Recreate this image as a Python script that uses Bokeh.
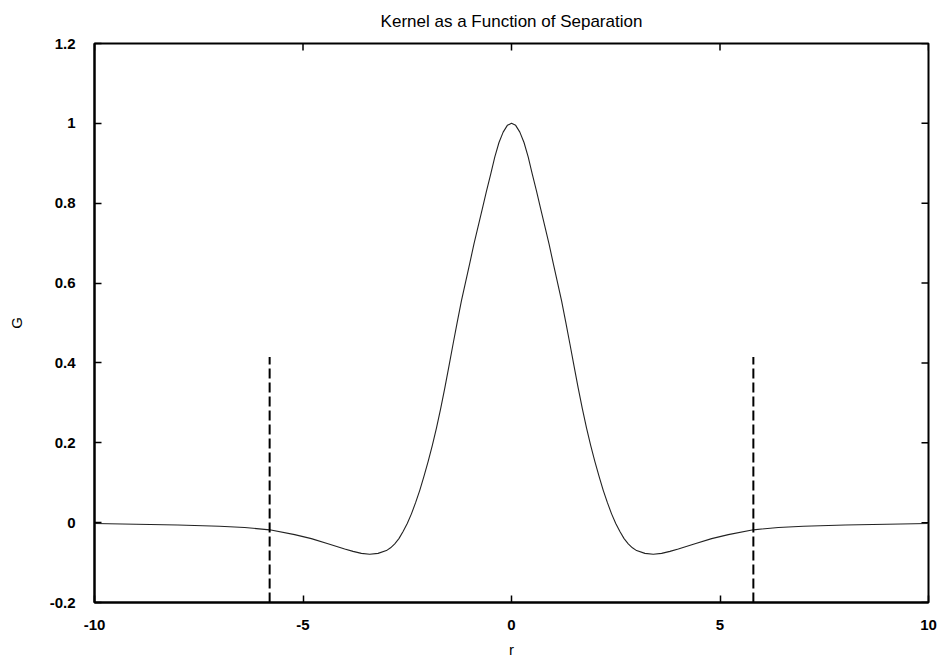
import math
from bokeh.plotting import figure
from bokeh.models import FixedTicker, CustomJSTickFormatter, Range1d
from bokeh.embed import file_html
from bokeh.resources import INLINE

# Kernel curve (symmetric about r = 0): right half
r_half = [0.0, 0.1, 0.2, 0.3, 0.4, 0.5, 0.6, 0.7, 0.8, 0.9, 1.0, 1.1, 1.2, 1.3, 1.4,
          1.5, 1.6, 1.7, 1.8, 1.9, 2.0, 2.1, 2.2, 2.3, 2.4, 2.5, 2.6, 2.7, 2.8, 2.9,
          3.0, 3.2, 3.4, 3.6, 3.8, 4.0, 4.4, 4.8, 5.2, 5.8, 6.4, 7.0, 8.0, 9.0, 10.0]
g_half = [1.000, 0.995, 0.978, 0.952, 0.916, 0.872, 0.830, 0.786, 0.742, 0.698, 0.650,
          0.603, 0.556, 0.503, 0.448, 0.392, 0.337, 0.285, 0.237, 0.193, 0.153, 0.116,
          0.081, 0.050, 0.022, -0.002, -0.022, -0.040, -0.053, -0.063, -0.070, -0.077,
          -0.079, -0.077, -0.072, -0.066, -0.053, -0.040, -0.030, -0.018, -0.012, -0.009,
          -0.006, -0.004, -0.002]

r_vals = [-v for v in reversed(r_half[1:])] + r_half
g_vals = list(reversed(g_half[1:])) + g_half

# Dashed cutoff markers
cut_r = [-5.8, 5.8]
cut_bottom = [-0.2, -0.2]
cut_top = [0.415, 0.415]

x_ticks = [-10, -5, 0, 5, 10]
y_ticks = [-0.2, 0.0, 0.2, 0.4, 0.6, 0.8, 1.0, 1.2]
x_min, x_max = -10, 10
y_min, y_max = -0.2, 1.2

title_text = "Kernel as a Function of Separation"

FONT = "Liberation Sans"

p = figure(width=940, height=660, output_backend="svg", toolbar_location=None,
           x_range=Range1d(x_min, x_max), y_range=Range1d(y_min, y_max),
           x_axis_label="r", y_axis_label="G", title=title_text,
           min_border_left=94, min_border_right=12, min_border_top=42, min_border_bottom=57)

p.grid.visible = False
p.background_fill_color = "white"
p.border_fill_color = "white"
p.outline_line_color = "black"
p.outline_line_width = 2

p.title.align = "center"
p.title.offset = -4
p.title.vertical_align = "top"
p.title.text_font = FONT
p.title.text_font_size = "17px"
p.title.text_font_style = "normal"
p.title.text_color = "black"
p.title.standoff = 22

fmt = CustomJSTickFormatter(code="return Number(tick.toFixed(1)).toString();")

for ax, ticks in ((p.xaxis[0], x_ticks), (p.yaxis[0], y_ticks)):
    ax.ticker = FixedTicker(ticks=ticks)
    ax.formatter = fmt
    ax.major_tick_in = 7
    ax.major_tick_out = 0
    ax.minor_tick_in = 0
    ax.minor_tick_out = 0
    ax.axis_line_width = 2
    ax.major_tick_line_width = 1.5
    ax.major_label_text_font = FONT
    ax.major_label_text_font_size = "15px"
    ax.major_label_text_font_style = "bold"
    ax.major_label_text_color = "black"
    ax.axis_label_text_font = FONT
    ax.axis_label_text_font_size = "15px"
    ax.axis_label_text_font_style = "normal"
    ax.axis_label_text_color = "black"

p.xaxis[0].major_label_standoff = 17
p.yaxis[0].major_label_standoff = 19
p.xaxis[0].axis_label_standoff = 8
p.yaxis[0].axis_label_standoff = 22

# mirrored inward ticks on the top and right edges of the frame
p.ray(x=x_ticks, y=[y_max] * len(x_ticks), length=7, length_units="screen",
      angle=-math.pi / 2, line_color="black", line_width=1.5)
p.ray(x=[x_max] * len(y_ticks), y=y_ticks, length=7, length_units="screen",
      angle=math.pi, line_color="black", line_width=1.5)

p.line(r_vals, g_vals, line_color="#222222", line_width=1.1)
p.segment(x0=cut_r, y0=cut_bottom, x1=cut_r, y1=cut_top,
          line_color="black", line_width=2, line_dash="10 4")

open("out.html", "w").write(file_html(p, INLINE))
